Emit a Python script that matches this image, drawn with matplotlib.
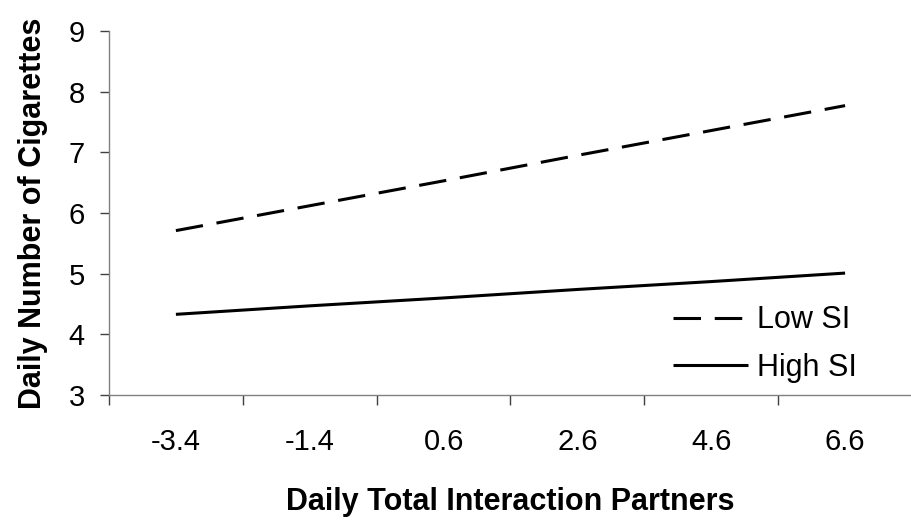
import matplotlib
matplotlib.use('Agg')
import matplotlib.pyplot as plt
import numpy as np

plt.rcParams['font.family'] = ['Liberation Sans', 'DejaVu Sans']

# partner counts (centered) and predicted cigarettes per day
partners = ['-3.4', '-1.4', '0.6', '2.6', '4.6', '6.6']
low_si = [5.71, 6.12, 6.53, 6.95, 7.36, 7.77]
high_si = [4.33, 4.47, 4.60, 4.74, 4.87, 5.01]
y_ticks = [3, 4, 5, 6, 7, 8, 9]

fig = plt.figure(figsize=(9.12, 5.23), dpi=100)
ax = fig.add_axes([0.1195, 0.2447, 0.8805, 0.696])

x = np.arange(len(partners))
ax.plot(x, low_si, color='black', lw=2.2, linestyle=(0, (9, 4.5)),
        dash_capstyle='butt', label='Low SI')
ax.plot(x, high_si, color='black', lw=2.2, solid_capstyle='butt', label='High SI')

ax.set_xlim(-0.5, len(partners) - 0.5)
ax.set_ylim(3, 9)
ax.set_yticks(y_ticks)
ax.set_xticks(x)
ax.set_xticklabels(partners)
# tick marks sit between categories, like a category axis
ax.set_xticks(np.arange(len(partners) + 1) - 0.5, minor=True)
ax.tick_params(axis='x', which='major', length=0, pad=24, labelsize=21)
ax.tick_params(axis='x', which='minor', length=7, width=1, color='#404040', direction='out')
ax.tick_params(axis='y', length=6.5, width=1, color='#404040', pad=11, labelsize=21)

for side in ['top', 'right']:
    ax.spines[side].set_visible(False)
for side in ['left', 'bottom']:
    ax.spines[side].set_color('#808080')
    ax.spines[side].set_linewidth(1)

ax.set_xlabel('Daily Total Interaction Partners', fontsize=22, fontweight='bold', labelpad=22)
ax.set_ylabel('Daily Number of Cigarettes', fontsize=22, fontweight='bold', labelpad=15)

leg = ax.legend(loc='lower right', bbox_to_anchor=(0.966, -0.043), frameon=False, fontsize=22,
                handlelength=2.45, handletextpad=0.3, labelspacing=0.58)

fig.savefig('out.png', dpi=100)
